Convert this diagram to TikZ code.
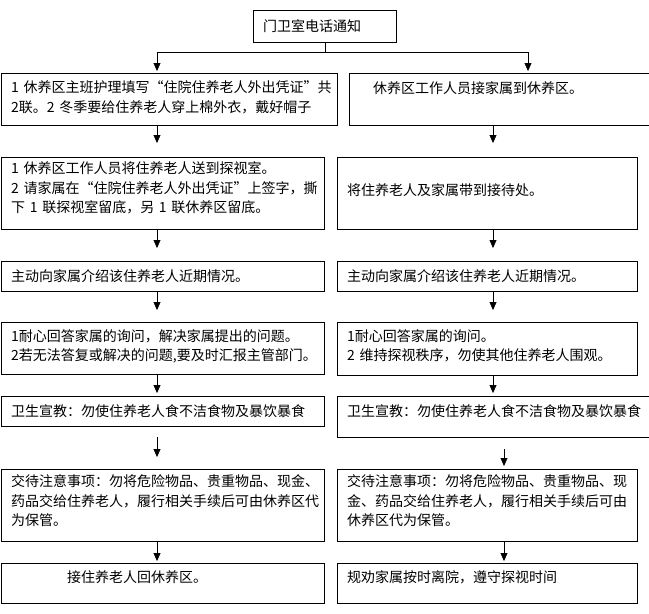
\documentclass[tikz,border=0pt]{standalone}
\usepackage{fontspec}
\setmainfont{Noto Sans CJK SC}
\usetikzlibrary{arrows.meta}
\tikzset{
->, % every connector is directed
>={Triangle[width=7pt,length=8pt]}, % small solid heads
line width=1pt, % thin black lines
box/.style={draw, anchor=north west, inner xsep=10pt, inner ysep=0pt, align=left, font=\fontsize{14}{19.5}\selectfont}, % one step of the procedure
lbox/.style={box, text width=303pt}, % left column
rbox/.style={box, text width=280pt}, % right column
}
\begin{document}
\begin{tikzpicture}[x=1pt, y=-1pt]
            \useasboundingbox (0,0) rectangle (649,614);
            \node[box, text width=123pt, text height=21.3pt, text depth=10.7pt] (notice) at (253,10) {门卫室电话通知};
            \node[box, text width=316pt, text height=19.5pt, text depth=32.5pt] (l1) at (1,73) {1 休养区主班护理填写“住院住养老人外出凭证”共\\2联。2 冬季要给住养老人穿上棉外衣，戴好帽子};
            \node[box, text width=286pt, text height=20pt, text depth=32pt] (r1) at (349,73) {\hspace*{1em}休养区工作人员接家属到休养区。};
            \node[lbox, text height=16.3pt, text depth=55.7pt] (l2) at (1,157) {1 休养区工作人员将住养老人送到探视室。\\2 请家属在“住院住养老人外出凭证”上签字，撕\\下 1 联探视室留底，另 1 联休养区留底。};
            \node[rbox, text height=38.3pt, text depth=33.7pt] (r2) at (337,157) {将住养老人及家属带到接待处。};
            \node[lbox, text height=20pt, text depth=10pt] (l3) at (1,261) {主动向家属介绍该住养老人近期情况。};
            \node[rbox, text height=20pt, text depth=10pt] (r3) at (337,261) {主动向家属介绍该住养老人近期情况。};
            \node[lbox, text height=19pt, text depth=33pt] (l4) at (1,322) {1耐心回答家属的询问，解决家属提出的问题。\\2若无法答复或解决的问题,要及时汇报主管部门。};
            \node[rbox, text height=19pt, text depth=34pt] (r4) at (337,322) {1耐心回答家属的询问。\\2 维持探视秩序，勿使其他住养老人围观。};
            \node[lbox, text height=20.3pt, text depth=9.7pt] (l5) at (1,396) {卫生宣教：勿使住养老人食不洁食物及暴饮暴食};
            \node[box, text width=298pt, text height=20.3pt, text depth=20.7pt] (r5) at (337,396) {卫生宣教：勿使住养老人食不洁食物及暴饮暴食};
            \node[lbox, text height=17.3pt, text depth=54.7pt] (l6) at (1,469) {交待注意事项：勿将危险物品、贵重物品、现金、\\药品交给住养老人，履行相关手续后可由休养区代\\为保管。};
            \node[rbox, text height=17.3pt, text depth=54.7pt] (r6) at (337,469) {交待注意事项：勿将危险物品、贵重物品、现\\金、药品交给住养老人，履行相关手续后可由\\休养区代为保管。};
            \node[lbox, text height=19.3pt, text depth=20.7pt] (l7) at (1,563) {\hspace*{4em}接住养老人回休养区。};
            \node[rbox, text height=19.3pt, text depth=20.7pt] (r7) at (337,563) {规劝家属按时离院，遵守探视时间};
            % where the arrows run
            \coordinate (split) at ([yshift=-10pt]notice.south);
            \coordinate (colL) at (157,0);
            \coordinate (colRt) at (528,0);
            \coordinate (colR) at (493,0);
            \coordinate (colRb) at (504,0);
            \draw[-] (notice.south) -- (split);
            \draw[shorten >=2pt] (split) -| (l1.north -| colL);
            \draw[shorten >=2pt] (split) -| (r1.north -| colRt);
            \draw[-, every edge/.append style={->}]
                (l1.south -| colL) edge[shorten >=14pt] (l2.north -| colL)
                (r1.south -| colR) edge[shorten >=14pt] (r2.north -| colR)
                (l2.south -| colL) edge[shorten >=13pt] (l3.north -| colL)
                (r2.south -| colR) edge[shorten >=13pt] (r3.north -| colR)
                (l3.south -| colL) edge[shorten >=12pt] (l4.north -| colL)
                (r3.south -| colR) edge[shorten >=12pt] (r4.north -| colR)
                (l4.south -| colL) edge[shorten >=3pt] (l5.north -| colL)
                (r4.south -| colR) edge[shorten >=3pt] (r5.north -| colR)
                (l5.south -| colL) edge[shorten <=11pt, shorten >=12pt] (l6.north -| colL)
                (r5.south -| colRb) edge[shorten <=12pt, shorten >=3pt] (r6.north -| colRb)
                (l6.south -| colL) edge[shorten >=2pt] (l7.north -| colL)
                (r6.south -| colRb) edge[shorten >=2pt] (r7.north -| colRb)
                ;
\end{tikzpicture}
\end{document}
